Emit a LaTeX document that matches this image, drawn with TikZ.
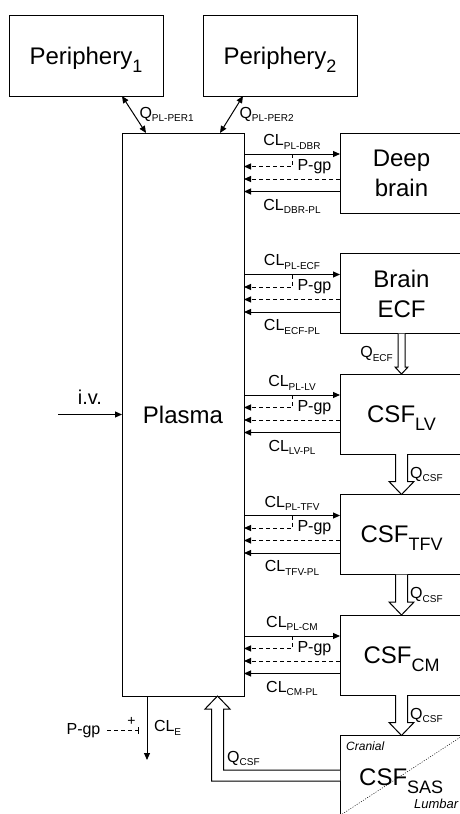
\documentclass[tikz,border=0pt]{standalone}
\usepackage{fontspec}
\setmainfont{Liberation Sans}
\usetikzlibrary{arrows.meta,positioning,calc}

\newcommand{\lowsub}[1]{\raisebox{-3.5pt}{\fontsize{10}{10}\selectfont #1}}
\newcommand{\bigsub}[1]{\raisebox{-8pt}{\fontsize{18}{18}\selectfont #1}}
\newcommand{\qflow}[5]{%
  \draw[blk] let \p1=(#4), \p2=(#5) in
    (\x1-#1,\y1) -- (\x1-#1,\y2+#3) -- (\x1-#2,\y2+#3) -- (\x1,\y2)
    -- (\x1+#2,\y2+#3) -- (\x1+#1,\y2+#3) -- (\x1+#1,\y1);}

\begin{document}
\begin{tikzpicture}[x=1pt,y=-1pt,font=\fontsize{16}{18}\selectfont,>={Triangle[length=7pt,width=6pt]},
  comp/.style={draw,line width=1pt,inner sep=0pt,outer sep=0pt,align=center,text depth=0pt,
    font=\fontsize{24}{30}\selectfont,minimum width=123pt,minimum height=80pt},
  flow/.style={->,line width=1pt},
  pgp/.style={flow,dash pattern=on 4pt off 3pt},
  blk/.style={line width=1pt,fill=white},
  lbl/.style={inner sep=1.5pt}]
\useasboundingbox (0,0) rectangle (460,814);

\node[comp,minimum width=154pt,minimum height=81pt] (peri1) at (86,55.5) {Periphery\bigsub{1}};
\node[comp,minimum width=154pt,minimum height=81pt] (peri2) at (280,55.5) {Periphery\bigsub{2}};
\node[comp,minimum width=122pt,minimum height=563pt] (plasma) at (183,414.5) {Plasma};

\node[comp] (dbr) at (401.5,173) {Deep\\brain};
\node[comp,below=40.5pt of dbr] (ecf) {Brain\\ECF};
\node[comp,below=40.5pt of ecf] (lv) {CSF\bigsub{LV}};
\node[comp,below=40.5pt of lv] (tfv) {CSF\bigsub{TFV}};
\node[comp,below=40.5pt of tfv] (cm) {CSF\bigsub{CM}};
\node[comp,below=40.5pt of cm] (sas) {};
\draw[line width=0.5pt,dash pattern=on 1pt off 1.5pt] (sas.south west) -- (sas.north east);
\node[anchor=base west,inner sep=0pt,font=\itshape\fontsize{12}{14}\selectfont] (cranial) at ($(sas.north west)+(6,14.5)$) {Cranial};
\node[anchor=base west,inner sep=0pt,font=\itshape\fontsize{13}{14}\selectfont] (lumbar) at ($(sas.north west)+(74,72.5)$) {Lumbar};
\node[anchor=base west,inner sep=0pt,font=\fontsize{24}{30}\selectfont] (sastext) at ($(sas.north west)+(19,49.5)$) {CSF\bigsub{SAS}};

\draw[flow,<->] ([xshift=36pt]peri1.south) -- node[lbl,right=3.5pt] {Q\lowsub{PL-PER1}} ([xshift=24pt]plasma.north west);
\draw[flow,<->] ([xshift=-37pt]peri2.south) -- node[lbl,right=6pt] {Q\lowsub{PL-PER2}} ([xshift=-24pt]plasma.north east);

\coordinate (ivstart) at (58,414.5);
\draw[flow] (ivstart) -- node[lbl,above=8pt,font=\fontsize{20}{22}\selectfont] {i.v.} (plasma.west |- ivstart);

\foreach \c/\fwd/\bwd in {dbr/PL-DBR/DBR-PL,ecf/PL-ECF/ECF-PL,lv/PL-LV/LV-PL,tfv/PL-TFV/TFV-PL,cm/PL-CM/CM-PL}{
  \path (\c.north west) ++(0,21) coordinate (\c-in) ++(0,12.5) coordinate (\c-pg)
    ++(0,12.5) coordinate (\c-dash) ++(0,12.5) coordinate (\c-out);
  \coordinate (\c-mid) at ($(plasma.east |- \c-in)!.5!(\c-in)$);
  \draw[flow] (plasma.east |- \c-in) -- node[lbl,above=3pt] {CL\lowsub{\fwd}} (\c-in);
  \draw[pgp] (\c-mid) |- node[lbl,pos=0.5,right=3.5pt] {P-gp} (plasma.east |- \c-pg);
  \draw[pgp] (\c-dash) -- (plasma.east |- \c-dash);
  \draw[flow] (\c-out) -- node[lbl,below=5.5pt] {CL\lowsub{\bwd}} (plasma.east |- \c-out);
}

\qflow{3.5pt}{6.5pt}{7pt}{ecf.south}{lv.north}
\node[lbl,anchor=east] (qecf) at ($(ecf.south)!.5!(lv.north)+(-7,0)$) {Q\lowsub{ECF}};
\qflow{6pt}{12.5pt}{13pt}{lv.south}{tfv.north}
\node[lbl,anchor=west] (qlv) at ($(lv.south)!.5!(tfv.north)+(7,0)$) {Q\lowsub{CSF}};
\qflow{6pt}{12.5pt}{13pt}{tfv.south}{cm.north}
\node[lbl,anchor=west] (qtfv) at ($(tfv.south)!.5!(cm.north)+(7,0)$) {Q\lowsub{CSF}};
\qflow{6pt}{12.5pt}{13pt}{cm.south}{sas.north}
\node[lbl,anchor=west] (qcm) at ($(cm.south)!.5!(sas.north)+(7,0)$) {Q\lowsub{CSF}};

\coordinate (qback) at ([xshift=-26.5pt]plasma.south east);
\draw[blk] let \p1=(sas.west), \p2=(qback) in
  (\x1,\y1-5.5pt) -- (\x2-6pt,\y1-5.5pt) -- (\x2-6pt,\y2-13pt) -- (\x2-12.5pt,\y2-13pt) -- (\x2,\y2)
  -- (\x2+12.5pt,\y2-13pt) -- (\x2+6pt,\y2-13pt) -- (\x2+6pt,\y1+5.5pt) -- (\x1,\y1+5.5pt);
\node[lbl,anchor=base west] (qret) at ($(qback |- sas.west)+(8,-13.5)$) {Q\lowsub{CSF}};

\coordinate (elim) at (147,760);
\draw[flow] (plasma.south -| elim) -- node[lbl,right=5pt] {CL\lowsub{E}} (elim);
\node[lbl] (pgpe) at (83.5,730.5) {P-gp};
\draw[pgp,-{Bar[width=7pt]},shorten <=5pt,shorten >=8pt] (pgpe.east) -- (pgpe.east -| elim);
\node[inner sep=0pt,font=\fontsize{14}{14}\selectfont] (plus) at (131.5,721) {+};
\end{tikzpicture}
\end{document}
